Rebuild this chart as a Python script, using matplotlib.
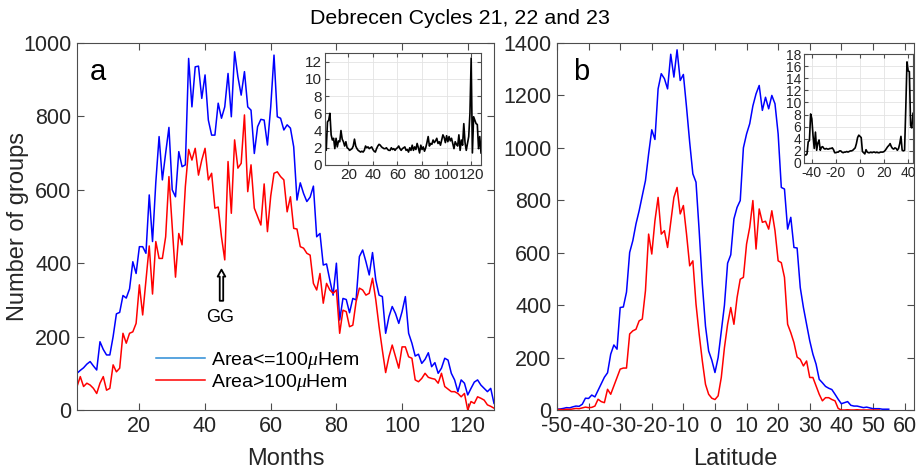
import numpy as np
import matplotlib
matplotlib.use("Agg")
import matplotlib.pyplot as plt
from matplotlib.lines import Line2D

# ── 글꼴 / 스타일 ────────────────────────────────
plt.rcParams["font.family"] = ["Liberation Sans", "DejaVu Sans"]
plt.rcParams["axes.unicode_minus"] = False
plt.rcParams["mathtext.fontset"] = "custom"
plt.rcParams["mathtext.it"] = "Liberation Serif:italic"

TXT = "#262626"
SPINE = "#4d4d4d"

# ── (a) 월별 그룹 수 ──────────────────────────────
months = np.arange(1, 129)
small_groups = [
    100, 108, 115, 125, 132, 120, 109, 186, 165, 150,
    150, 200, 262, 266, 312, 305, 330, 404, 372, 445,
    445, 427, 586, 459, 620, 745, 627, 700, 770, 600,
    581, 704, 663, 668, 958, 826, 935, 937, 849, 913,
    790, 749, 749, 836, 795, 826, 917, 799, 976, 908,
    858, 922, 826, 817, 699, 772, 792, 790, 722, 826,
    967, 799, 795, 763, 777, 768, 717, 572, 619, 590,
    568, 580, 610, 472, 481, 395, 398, 354, 313, 400,
    245, 304, 301, 265, 304, 300, 418, 436, 404, 368,
    429, 354, 313, 309, 209, 254, 282, 263, 236, 268,
    309, 209, 182, 147, 152, 127, 138, 156, 118, 129,
    100, 114, 141, 136, 100, 82, 50, 82, 73, 41,
    59, 76, 82, 68, 59, 50, 59, 18,
]
large_groups = [
    64, 91, 64, 73, 68, 59, 45, 73, 91, 54,
    59, 123, 104, 114, 209, 182, 209, 213, 236, 341,
    259, 354, 447, 316, 459, 413, 413, 472, 636, 500,
    362, 481, 450, 609, 710, 681, 713, 640, 681, 713,
    627, 645, 550, 553, 472, 409, 677, 536, 736, 659,
    672, 804, 595, 668, 550, 527, 504, 616, 486, 583,
    645, 649, 636, 627, 540, 581, 495, 493, 445, 441,
    427, 422, 345, 327, 372, 291, 345, 327, 318, 327,
    209, 272, 268, 227, 231, 295, 332, 327, 313, 318,
    359, 300, 227, 163, 102, 145, 177, 145, 114, 172,
    172, 145, 141, 82, 77, 86, 100, 89, 86, 84,
    73, 100, 64, 57, 50, 50, 45, 36, 45, 0,
    23, 18, 36, 32, 27, 14, 10, 5,
]
ratio_months = [
    4.1, 1.7, 5.0, 5.2, 6.0, 3.5, 2.9, 3.1, 1.9, 3.1,
    2.1, 2.8, 2.7, 4.0, 3.0, 2.7, 2.2, 2.7, 2.0, 1.9,
    1.7, 1.8, 1.9, 2.2, 3.0, 2.2, 1.9, 1.7, 1.6, 1.5,
    1.6, 1.5, 1.7, 2.2, 2.0, 2.1, 1.9, 2.0, 2.1, 1.8,
    1.6, 1.5, 1.9, 2.2, 2.4, 2.3, 2.1, 2.0, 1.9, 1.9,
    2.0, 1.8, 1.7, 1.7, 2.0, 1.8, 1.9, 1.7, 1.9, 2.0,
    2.2, 1.9, 1.7, 1.9, 2.0, 2.1, 1.7, 1.8, 1.5, 2.0,
    1.7, 2.3, 1.7, 2.1, 1.8, 2.5, 2.0, 1.4, 2.3, 1.8,
    2.1, 1.6, 2.0, 2.6, 3.3, 2.2, 2.5, 2.4, 2.9, 2.6,
    2.8, 3.1, 2.5, 2.7, 2.3, 2.9, 3.5, 3.2, 2.6, 3.4,
    2.7, 3.3, 2.8, 3.1, 2.5, 1.9, 2.7, 2.4, 2.2, 3.5,
    1.7, 2.9, 2.3, 4.8, 2.6, 1.7, 2.5, 3.3, 6.0, 12.4,
    1.4, 5.6, 5.2, 4.8, 4.7, 1.9, 3.3, 1.4,
]

# ── (b) 위도별 그룹 수 ────────────────────────────
lat_blue = np.arange(-50, 56)
small_lat = [
    3, 4, 6, 9, 8, 12, 15, 14, 22, 45,
    44, 57, 50, 75, 100, 125, 142, 213, 248, 232,
    391, 393, 450, 601, 646, 710, 760, 818, 875, 977,
    1069, 1032, 1225, 1283, 1264, 1225, 1357, 1270, 1374, 1257,
    1280, 1155, 1021, 901, 869, 684, 480, 320, 225, 190,
    143, 200, 300, 400, 560, 592, 729, 773, 799, 1000,
    1053, 1092, 1160, 1206, 1238, 1143, 1193, 1149, 1200, 1168,
    1053, 849, 843, 690, 735, 620, 618, 467, 391, 327,
    264, 213, 175, 117, 104, 90, 83, 78, 60, 41,
    24, 28, 32, 18, 15, 15, 12, 9, 11, 8,
    5, 5, 5, 3, 3, 3,
]
lat_red = np.arange(-50, 53)
large_lat = [
    2, 2, 1, 3, 2, 4, 6, 5, 8, 11,
    9, 10, 15, 41, 32, 28, 79, 60, 92, 124,
    156, 160, 160, 290, 302, 308, 340, 347, 455, 671,
    595, 722, 811, 671, 684, 620, 716, 811, 849, 748,
    780, 671, 550, 569, 404, 289, 187, 98, 60, 45,
    40, 54, 124, 238, 327, 391, 327, 429, 499, 506,
    633, 697, 799, 614, 767, 716, 720, 690, 760, 684,
    569, 562, 506, 327, 295, 257, 202, 193, 168, 187,
    124, 124, 92, 60, 35, 47, 47, 40, 35, 6,
    0, 0, 1, 0, 0, 1, 0, 0, 0, 0,
    0, 0, 0,
]
lat_ratio = np.arange(-46, 45)
ratio_lat = [
    1.4, 1.3, 1.5, 3.5, 3.7, 8.1, 7.3, 4.5, 2.4, 5.1,
    2.1, 3.3, 3.8, 2.1, 2.6, 2.7, 2.4, 2.3, 2.4, 2.3,
    2.3, 2.4, 2.4, 2.5, 2.2, 1.7, 1.7, 1.8, 1.8, 2.0,
    2.0, 1.8, 1.7, 1.8, 1.8, 1.9, 1.8, 1.9, 2.0, 2.0,
    2.1, 2.3, 2.5, 3.2, 4.2, 4.6, 4.4, 4.2, 1.9, 1.7,
    1.5, 2.2, 1.8, 1.7, 1.7, 1.8, 1.7, 1.8, 1.8, 1.7,
    1.8, 1.7, 1.7, 1.8, 1.8, 1.8, 1.9, 2.1, 2.4, 2.7,
    2.9, 3.2, 2.7, 2.4, 2.3, 2.5, 2.4, 2.1, 2.4, 3.2,
    4.4, 2.1, 2.0, 2.1, 9.0, 16.7, 15.2, 15.1, 6.2, 5.8,
    8.2,
]

labels = [r"Area<=100$\mu$Hem", r"Area>100$\mu$Hem"]


def style_axes(ax, fs, ticklen=5):
    for s in ax.spines.values():
        s.set_color(SPINE)
        s.set_linewidth(0.8)
    ax.tick_params(direction="in", top=True, right=True, length=ticklen,
                   width=0.8, color=SPINE, labelcolor=TXT, labelsize=fs, pad=4)


fig = plt.figure(figsize=(9.19, 4.70), dpi=100)
fig.text(0.5, 1 - 18 / 470, "Debrecen Cycles 21, 22 and 23",
         ha="center", va="center", fontsize=15.4, color="black")

# (a)
ax1 = fig.add_axes([77 / 919, 1 - 410 / 470, 417 / 919, 367 / 470])
ax1.plot(months, small_groups, color="#0000ff", lw=1.1)
ax1.plot(months, large_groups, color="#ff0000", lw=1.1)
ax1.set_xlim(1, 128)
ax1.set_ylim(0, 1000)
ax1.set_xticks(range(20, 121, 20))
ax1.set_yticks(range(0, 1001, 200))
style_axes(ax1, 15.5)
ax1.set_xlabel("Months", fontsize=17, color=TXT, labelpad=8)
ax1.set_ylabel("Number of groups", fontsize=17, color=TXT)
ax1.yaxis.set_label_coords(-0.115, 0.5)
ax1.text(0.03, 0.92, "a", transform=ax1.transAxes, fontsize=21, va="center")
ax1.annotate("", xy=(45, 390), xytext=(45, 290),
             arrowprops=dict(arrowstyle="simple,head_length=0.5,head_width=0.55,tail_width=0.25",
                             fc="white", ec="black", lw=1.3))
ax1.text(44.6, 253, "GG", ha="center", va="center", fontsize=13)
handles = [Line2D([], [], color="#2b8cd6", lw=1.1), Line2D([], [], color="#ff0000", lw=1.1)]
ax1.legend(handles, labels, loc="upper left", bbox_to_anchor=(0.19, 0.163),
           frameon=False, fontsize=14, handlelength=2.5, handletextpad=0.3,
           labelspacing=0.05, borderpad=0, borderaxespad=0)

ins1 = fig.add_axes([325 / 919, 1 - 165 / 470, 156 / 919, 112 / 470])
ins1.plot(months, ratio_months, color="black", lw=1.2)
ins1.set_xlim(1, 128)
ins1.set_ylim(0, 13)
ins1.set_xticks(range(20, 121, 20))
ins1.set_yticks(range(0, 13, 2))
ins1.grid(color="#e3e3e3", lw=0.6)
style_axes(ins1, 11, ticklen=3)
ins1.tick_params(pad=2)

# (b)
ax2 = fig.add_axes([557 / 919, 1 - 410 / 470, 357 / 919, 367 / 470])
ax2.plot(lat_blue, small_lat, color="#0000ff", lw=1.1)
ax2.plot(lat_red, large_lat, color="#ff0000", lw=1.1)
ax2.set_xlim(-50, 63)
ax2.set_ylim(0, 1400)
ax2.set_xticks(range(-50, 61, 10))
ax2.set_yticks(range(0, 1401, 200))
style_axes(ax2, 15.5)
ax2.set_xlabel("Latitude", fontsize=17, color=TXT, labelpad=8)
ax2.text(0.045, 0.92, "b", transform=ax2.transAxes, fontsize=21, va="center")

ins2 = fig.add_axes([804 / 919, 1 - 163 / 470, 109 / 919, 109 / 470])
ins2.plot(lat_ratio, ratio_lat, color="black", lw=1.2)
ins2.set_xlim(-46.5, 44)
ins2.set_ylim(0, 18)
ins2.set_xticks(range(-40, 41, 20))
ins2.set_yticks(range(0, 19, 2))
ins2.grid(color="#e3e3e3", lw=0.6)
style_axes(ins2, 10, ticklen=3)
ins2.tick_params(pad=2)

fig.savefig("out.png", dpi=100)
